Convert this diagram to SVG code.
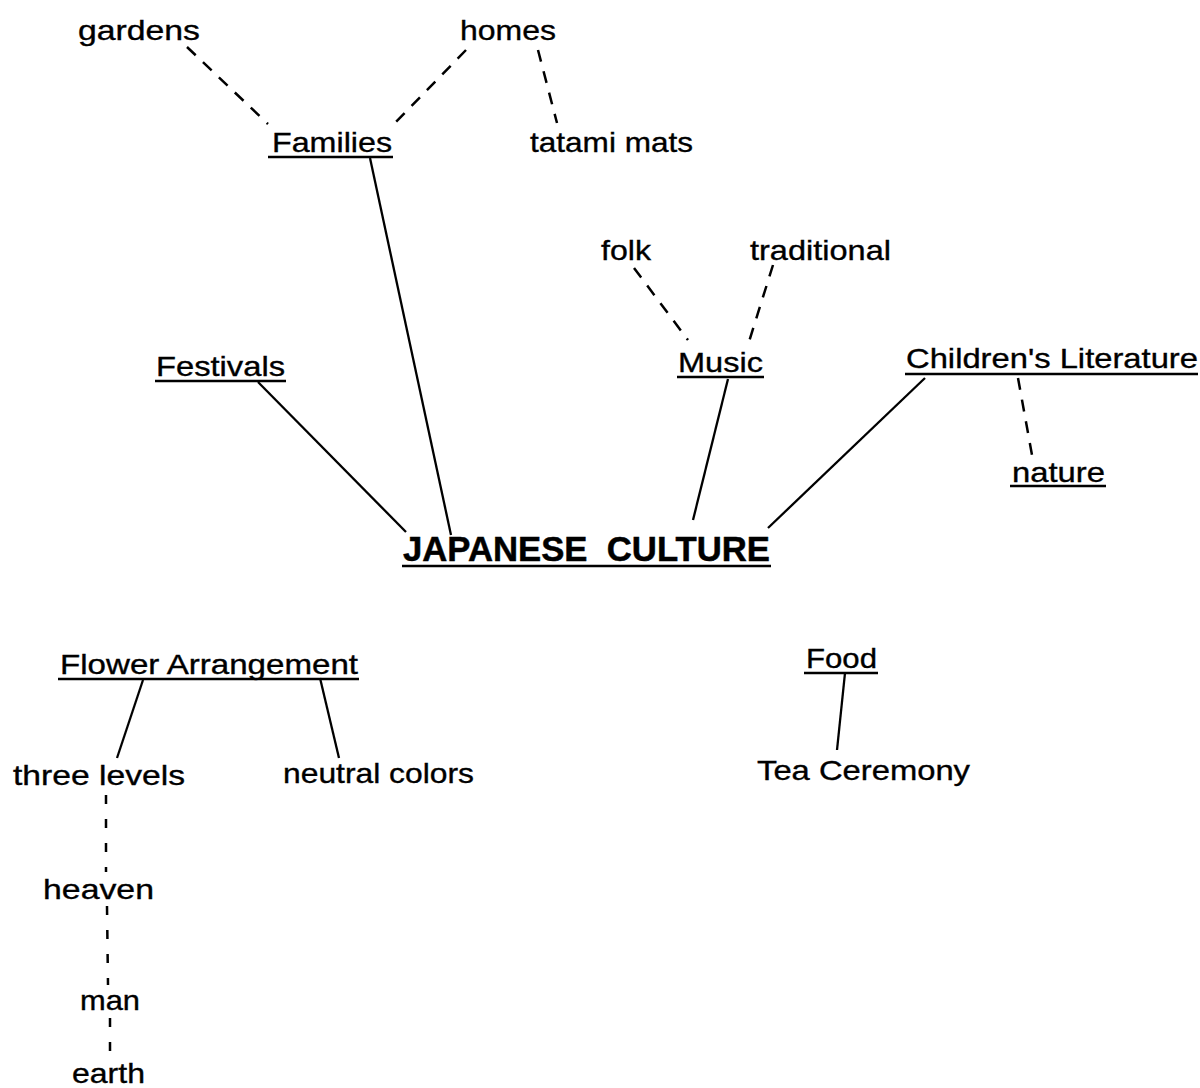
<svg xmlns="http://www.w3.org/2000/svg" width="1200" height="1088" viewBox="0 0 1200 1088">
<style>
text{font-family:"Liberation Sans",Arial,sans-serif;font-size:28px;fill:#000;stroke:#000;stroke-width:0.35}
.b{font-weight:bold;font-size:35px;white-space:pre;stroke-width:0.5}
.ul{stroke:#000;stroke-width:2.5}
.s{stroke:#000;stroke-width:2.3;fill:none}
.d{stroke:#000;stroke-width:2.5;fill:none;stroke-dasharray:12 10}
.d2{stroke:#000;stroke-width:2.5;fill:none;stroke-dasharray:9 15}
</style>
<rect width="1200" height="1088" fill="#fff"/>
<g id="connectors">
<line class="d" x1="187" y1="47" x2="268" y2="124"/>
<line class="d" x1="466" y1="50" x2="390" y2="128"/>
<line class="d" x1="538" y1="50" x2="557" y2="123"/>
<line class="s" x1="370" y1="158" x2="451" y2="535"/>
<line class="s" x1="258" y1="382" x2="406" y2="532"/>
<line class="d" x1="634" y1="268" x2="688" y2="340"/>
<line class="d" x1="773" y1="265" x2="748" y2="345"/>
<line class="s" x1="728" y1="379" x2="693" y2="520"/>
<line class="s" x1="925" y1="378" x2="768" y2="528"/>
<line class="d" x1="1018" y1="378" x2="1032" y2="455"/>
<line class="s" x1="143" y1="680" x2="117" y2="758"/>
<line class="s" x1="320" y1="678" x2="339" y2="758"/>
<line class="s" x1="845" y1="673" x2="837" y2="750"/>
<line class="d2" x1="106" y1="795" x2="106" y2="872"/>
<line class="d2" x1="107" y1="906" x2="108" y2="985"/>
<line class="d2" x1="110" y1="1018" x2="110" y2="1060"/>
</g>
<g id="gardens"><text x="78" y="40" textLength="122" lengthAdjust="spacingAndGlyphs">gardens</text></g>
<g id="homes"><text x="460" y="40" textLength="96" lengthAdjust="spacingAndGlyphs">homes</text></g>
<g id="families"><text x="272" y="152" textLength="120" lengthAdjust="spacingAndGlyphs">Families</text><line class="ul" x1="268" y1="157" x2="393" y2="157"/></g>
<g id="tatami"><text x="530" y="152" textLength="163" lengthAdjust="spacingAndGlyphs">tatami mats</text></g>
<g id="folk"><text x="601" y="260" textLength="50" lengthAdjust="spacingAndGlyphs">folk</text></g>
<g id="traditional"><text x="750" y="260" textLength="141" lengthAdjust="spacingAndGlyphs">traditional</text></g>
<g id="festivals"><text x="156" y="376" textLength="129" lengthAdjust="spacingAndGlyphs">Festivals</text><line class="ul" x1="155" y1="381" x2="286" y2="381"/></g>
<g id="music"><text x="678" y="372" textLength="85" lengthAdjust="spacingAndGlyphs">Music</text><line class="ul" x1="677" y1="377" x2="764" y2="377"/></g>
<g id="childrens-literature"><text x="906" y="368" textLength="292" lengthAdjust="spacingAndGlyphs">Children's Literature</text><line class="ul" x1="905" y1="374" x2="1198" y2="374"/></g>
<g id="nature"><text x="1012" y="482" textLength="93" lengthAdjust="spacingAndGlyphs">nature</text><line class="ul" x1="1010" y1="486" x2="1106" y2="486"/></g>
<g id="japanese-culture"><text class="b" x="403" y="561" textLength="367" lengthAdjust="spacingAndGlyphs">JAPANESE  CULTURE</text><line class="ul" x1="402" y1="566" x2="771" y2="566" stroke-width="3"/></g>
<g id="flower-arrangement"><text x="60" y="674" textLength="298" lengthAdjust="spacingAndGlyphs">Flower Arrangement</text><line class="ul" x1="58" y1="679" x2="359" y2="679"/></g>
<g id="food"><text x="806" y="668" textLength="71" lengthAdjust="spacingAndGlyphs">Food</text><line class="ul" x1="804" y1="673" x2="878" y2="673"/></g>
<g id="three-levels"><text x="13" y="785" textLength="172" lengthAdjust="spacingAndGlyphs">three levels</text></g>
<g id="neutral-colors"><text x="283" y="783" textLength="191" lengthAdjust="spacingAndGlyphs">neutral colors</text></g>
<g id="tea-ceremony"><text x="757" y="780" textLength="213" lengthAdjust="spacingAndGlyphs">Tea Ceremony</text></g>
<g id="heaven"><text x="43" y="899" textLength="111" lengthAdjust="spacingAndGlyphs">heaven</text></g>
<g id="man"><text x="80" y="1010" textLength="60" lengthAdjust="spacingAndGlyphs">man</text></g>
<g id="earth"><text x="72" y="1083" textLength="73" lengthAdjust="spacingAndGlyphs">earth</text></g>
</svg>
